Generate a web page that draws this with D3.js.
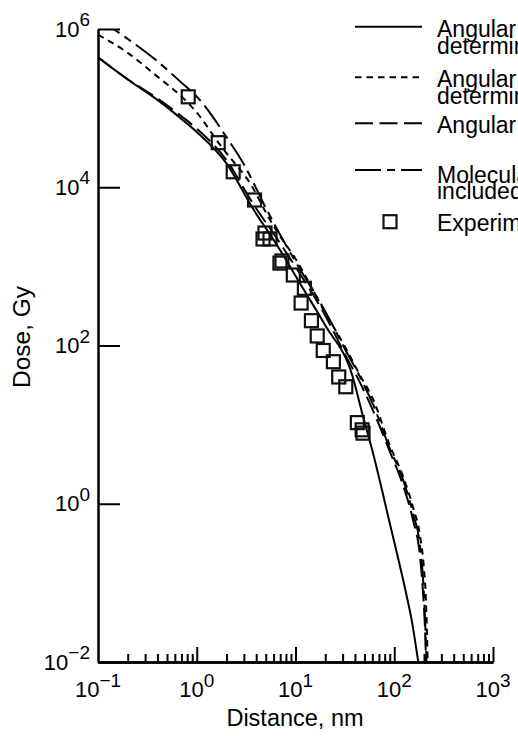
<!DOCTYPE html>
<html>
<head>
<meta charset="utf-8">
<script src="https://cdn.jsdelivr.net/npm/d3@7"></script>
<style>
  html, body { margin: 0; padding: 0; background: #fff; }
  svg { display: block; font-family: "Liberation Sans", Arial, Helvetica, sans-serif; }
</style>
</head>
<body>
<svg id="chart" width="518" height="736"></svg>
<script>
// ---- data ----
const solidX = [0.1, 0.2, 0.4, 0.7, 1, 2, 3.6, 7, 11, 20, 38, 48, 60, 90, 130, 150, 175];
const solidY = [4.4e5, 2.3e5, 1.27e5, 7.3e4, 5.0e4, 2.0e4, 5.7e3, 1.6e3, 620, 180, 40, 13, 4.7, 0.57, 0.08, 0.034, 0.01];

const dotX = [0.1, 0.2, 0.4, 0.7, 1, 1.65, 2, 3.5, 5.5, 7, 10, 19, 33, 45, 61, 90, 123, 155, 182, 200, 210, 218];
const dotY = [8.5e5, 5.0e5, 2.5e5, 1.4e5, 8.8e4, 3.7e4, 2.7e4, 1.1e4, 3.9e3, 2.4e3, 1.25e3, 290, 88, 42, 21, 5.5, 2.2, 0.9, 0.4, 0.15, 0.055, 0.01];

const longX = [0.1, 0.2, 0.4, 0.7, 1, 2, 3.6, 7, 11, 20, 33, 45, 61, 90, 123, 155, 182, 195, 204, 210];
const longY = [4.4e5, 2.32e5, 1.33e5, 7.9e4, 5.5e4, 2.2e4, 6.6e3, 1.95e3, 820, 240, 70, 34, 15, 4.6, 1.7, 0.62, 0.22, 0.08, 0.03, 0.01];

const molX = [0.1, 0.2, 0.4, 0.7, 1, 2, 3, 5, 7, 10, 20, 33, 45, 61, 90, 123, 155, 182, 195, 205, 212];
const molY = [1.35e6, 7.5e5, 3.9e5, 2.1e5, 1.4e5, 4.3e4, 1.95e4, 5.5e3, 2.5e3, 1.15e3, 270, 82, 40, 18, 5.0, 2.0, 0.75, 0.3, 0.12, 0.035, 0.01];

const expX = [0.82, 1.65, 2.34, 3.85, 4.91, 4.69, 5.52, 7.29, 6.96, 9.5, 12.3, 11.4, 14.5, 16.6, 19.1, 24.2, 27.4, 32.3, 42.3, 47.3, 48.3];
const expY = [1.39e5, 3.66e4, 1.57e4, 6.9e3, 2.64e3, 2.22e3, 2.22e3, 1.17e3, 1.10e3, 778, 528, 344, 206, 132, 86.5, 62.4, 40, 30.1, 10.6, 8.6, 7.8];

const xTicks = [0.1, 1, 10, 100, 1000];
const xTickExp = ["\u22121", "0", "1", "2", "3"];
const yTicks = [1e-2, 1, 1e2, 1e4, 1e6];
const yTickExp = ["\u22122", "0", "2", "4", "6"];

const legendLines = [
  ["Angular distribution", "determined by binary-encounter theory"],
  ["Angular distribution", "determined by kinematics"],
  ["Angular distribution isotropic"],
  ["Molecular structure effects", "included"],
  ["Experiment"]
];

// ---- layout ----
const svg = d3.select("#chart");
const x = d3.scaleLog().domain([0.1, 1000]).range([98, 493]);
const y = d3.scaleLog().domain([0.01, 1e6]).range([662, 29]);

svg.append("defs").append("clipPath").attr("id", "plot")
  .append("rect").attr("x", 98).attr("y", 29).attr("width", 395).attr("height", 633);

const series = [
  { xs: solidX, ys: solidY, dash: null },
  { xs: dotX, ys: dotY, dash: "6.5,5" },
  { xs: longX, ys: longY, dash: "18,6.5" },
  { xs: molX, ys: molY, dash: "26,6,8,6" }
];

const line = d3.line()
  .x(d => x(d[0]))
  .y(d => y(d[1]))
  .curve(d3.curveMonotoneX);

const gCurves = svg.append("g").attr("clip-path", "url(#plot)");
series.forEach(s => {
  gCurves.append("path")
    .attr("d", line(d3.zip(s.xs, s.ys)))
    .attr("fill", "none")
    .attr("stroke", "#000")
    .attr("stroke-width", 2)
    .attr("stroke-dasharray", s.dash);
});

// experimental squares
const sq = 13;
svg.append("g").selectAll("rect")
  .data(d3.zip(expX, expY))
  .join("rect")
  .attr("x", d => x(d[0]) - sq / 2)
  .attr("y", d => y(d[1]) - sq / 2)
  .attr("width", sq).attr("height", sq)
  .attr("fill", "none")
  .attr("stroke", "#111")
  .attr("stroke-width", 2.2);

// ---- axes ----
const isMajor = v => Math.abs(Math.log10(v) - Math.round(Math.log10(v))) < 1e-9;
const minor = x.ticks().filter(v => !isMajor(v));

const gx = svg.append("g").attr("transform", "translate(0,662)");
gx.call(d3.axisBottom(x).tickValues(minor).tickSize(-8).tickSizeOuter(0).tickFormat(""));
gx.call(g => g.append("g").call(d3.axisBottom(x).tickValues(xTicks.slice(1)).tickSize(-15).tickSizeOuter(0).tickFormat("")));
gx.selectAll(".domain").attr("stroke-width", 2.5);
gx.selectAll(".tick line").attr("stroke-width", 2);

const gy = svg.append("g").attr("transform", "translate(98,0)");
gy.call(d3.axisLeft(y).tickValues(yTicks).tickSize(-22).tickSizeOuter(0).tickFormat(""));
gy.select(".domain").attr("stroke-width", 2.5);
gy.selectAll(".tick line").attr("stroke-width", 2);

// tick labels with superscripts
xTicks.forEach((v, i) => {
  const t = svg.append("text")
    .attr("x", x(v)).attr("y", 697)
    .attr("text-anchor", "middle")
    .attr("font-size", 22);
  t.append("tspan").text("10");
  t.append("tspan").attr("dy", -10).attr("font-size", 19).text(xTickExp[i]);
});

yTicks.forEach((v, i) => {
  const t = svg.append("text")
    .attr("x", 90).attr("y", y(v) + 7.5)
    .attr("text-anchor", "end")
    .attr("font-size", 22);
  t.append("tspan").text("10");
  t.append("tspan").attr("dy", -10.5).attr("font-size", 19).text(yTickExp[i]);
});

// axis titles
svg.append("text")
  .attr("x", 295).attr("y", 726)
  .attr("text-anchor", "middle")
  .attr("font-size", 23.5)
  .text("Distance, nm");

svg.append("text")
  .attr("transform", "translate(29.5,337) rotate(-90)")
  .attr("text-anchor", "middle")
  .attr("font-size", 24.5)
  .text("Dose, Gy");

// ---- legend ----
const legY = [26.7, 77.3, 123.3, 170, 221.7];
const legBase = [37, 87.3, 133.3, 182.5, 230.7];
const gl = svg.append("g");
series.forEach((s, i) => {
  gl.append("line")
    .attr("x1", 355).attr("x2", 422)
    .attr("y1", legY[i]).attr("y2", legY[i])
    .attr("stroke", "#000").attr("stroke-width", 2)
    .attr("stroke-dasharray", s.dash);
});
gl.append("rect")
  .attr("x", 390 - sq / 2).attr("y", legY[4] - sq / 2)
  .attr("width", sq).attr("height", sq)
  .attr("fill", "none").attr("stroke", "#111").attr("stroke-width", 2.2);

legendLines.forEach((lines, i) => {
  const t = gl.append("text").attr("font-size", 23);
  lines.forEach((s, j) => {
    t.append("tspan").attr("x", 437).attr("y", legBase[i] + j * 16.5).text(s);
  });
});
</script>
</body>
</html>
